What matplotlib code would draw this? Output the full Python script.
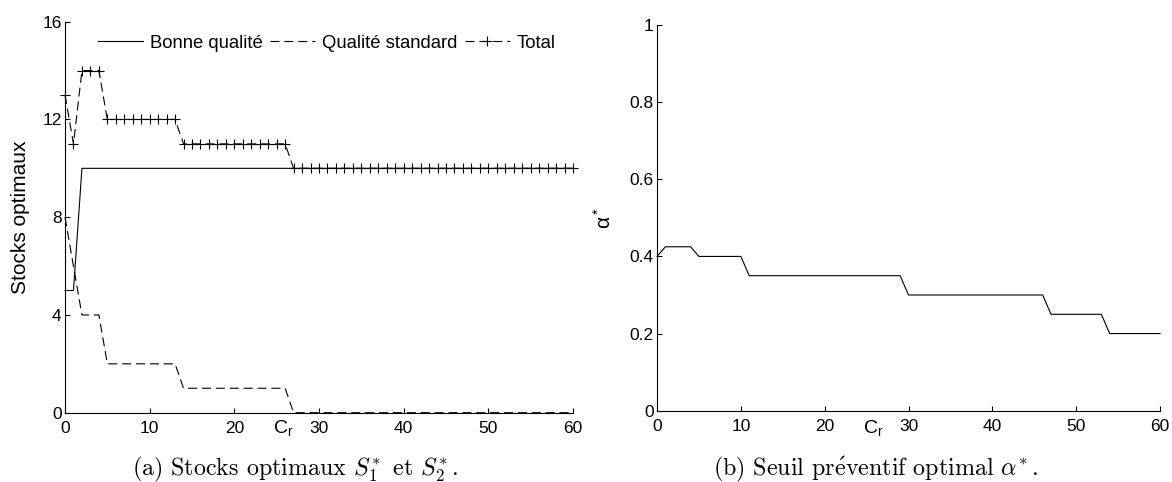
import matplotlib
matplotlib.use("Agg")
import matplotlib.pyplot as plt
import matplotlib.transforms as mtransforms

# ---- data ----
cr = list(range(0, 61))

bonne = [5, 5, 10, 10, 10, 10, 10, 10, 10, 10, 10, 10, 10, 10, 10, 10, 10, 10, 10, 10,
         10, 10, 10, 10, 10, 10, 10, 10, 10, 10, 10, 10, 10, 10, 10, 10, 10, 10, 10, 10,
         10, 10, 10, 10, 10, 10, 10, 10, 10, 10, 10, 10, 10, 10, 10, 10, 10, 10, 10, 10, 10]
standard = [8, 6, 4, 4, 4, 2, 2, 2, 2, 2, 2, 2, 2, 2, 1, 1, 1, 1, 1, 1,
            1, 1, 1, 1, 1, 1, 1, 0, 0, 0, 0, 0, 0, 0, 0, 0, 0, 0, 0, 0,
            0, 0, 0, 0, 0, 0, 0, 0, 0, 0, 0, 0, 0, 0, 0, 0, 0, 0, 0, 0, 0]
total = [13, 11, 14, 14, 14, 12, 12, 12, 12, 12, 12, 12, 12, 12, 11, 11, 11, 11, 11, 11,
         11, 11, 11, 11, 11, 11, 11, 10, 10, 10, 10, 10, 10, 10, 10, 10, 10, 10, 10, 10,
         10, 10, 10, 10, 10, 10, 10, 10, 10, 10, 10, 10, 10, 10, 10, 10, 10, 10, 10, 10, 10]
alpha = [0.40, 0.425, 0.425, 0.425, 0.425, 0.40, 0.40, 0.40, 0.40, 0.40, 0.40,
         0.35, 0.35, 0.35, 0.35, 0.35, 0.35, 0.35, 0.35, 0.35, 0.35,
         0.35, 0.35, 0.35, 0.35, 0.35, 0.35, 0.35, 0.35, 0.35,
         0.30, 0.30, 0.30, 0.30, 0.30, 0.30, 0.30, 0.30, 0.30, 0.30,
         0.30, 0.30, 0.30, 0.30, 0.30, 0.30, 0.30,
         0.25, 0.25, 0.25, 0.25, 0.25, 0.25, 0.25,
         0.20, 0.20, 0.20, 0.20, 0.20, 0.20, 0.20]

xticks = [0, 10, 20, 30, 40, 50, 60]
yticks_a = [0, 4, 8, 12, 16]
yticks_b = [0, 0.2, 0.4, 0.6, 0.8, 1]
yticklabels_b = ["0", "0.2", "0.4", "0.6", "0.8", "1"]

# ---- style ----
plt.rcParams["font.family"] = ["Liberation Sans", "DejaVu Sans"]
plt.rcParams["mathtext.fontset"] = "cm"
plt.rcParams["lines.scale_dashes"] = False

W, H = 1172, 482
fig = plt.figure(figsize=(W / 100, H / 100), dpi=100)

ax1 = fig.add_axes([65 / W, (H - 412.7) / H, 508 / W, 391 / H])
ax2 = fig.add_axes([657 / W, (H - 410.7) / H, 503 / W, 385.7 / H])

DASH = (6.5, 3.5)

ax1.plot(cr, bonne, color="black", lw=0.8, label="Bonne qualité", clip_on=False)
ax1.plot(cr, standard, color="black", lw=0.8, dashes=DASH, label="Qualité standard",
         clip_on=False)
ax1.plot(cr, total, color="black", lw=0.8, dashes=DASH, marker="+",
         markersize=7, markeredgewidth=0.8, label="Total", clip_on=False)

ax2.plot(cr, alpha, color="black", lw=0.8, clip_on=False)

for ax in (ax1, ax2):
    ax.set_xlim(0, 60)
    ax.set_xticks(xticks)
    for side in ("top", "right"):
        ax.spines[side].set_visible(False)
    for side in ("left", "bottom"):
        ax.spines[side].set_linewidth(0.8)
    ax.tick_params(direction="in", length=3.5, width=0.8, labelsize=12.5)
    ax.tick_params(axis="x", pad=6)
    ax.tick_params(axis="y", pad=2.5)
    # C_r placed near the 25 mark like in the original
    trans = mtransforms.blended_transform_factory(ax.transData, ax.transAxes)
    ybase = -0.052 if ax is ax1 else -0.058
    ax.text(24.6, ybase, r"$\mathregular{C_r}$", transform=trans, fontsize=14,
            ha="left", va="baseline")

ax1.set_ylim(0, 16)
ax1.set_yticks(yticks_a)
ax1.set_ylabel("Stocks optimaux", fontsize=15)
ax1.yaxis.set_label_coords(-0.069, 0.5)

ax2.set_ylim(0, 1)
ax2.set_yticks(yticks_b)
ax2.set_yticklabels(yticklabels_b)
ax2.set_ylabel(r"$\mathregular{\alpha^*}$", fontsize=15)
ax2.yaxis.set_label_coords(-0.083, 0.5)

ax1.legend(loc="center left", bbox_to_anchor=(0.065, 0.9455), ncol=3, frameon=False,
           fontsize=13.3, handlelength=2.45, handletextpad=0.38, columnspacing=0.38,
           borderpad=0, borderaxespad=0)

cap_font = ["cmr10", "DejaVu Serif"]
fig.text(295 / W, 7 / H, r"(a) Stocks optimaux $S_1^{\!*}$ et $S_2^{\!*}$.",
         family=cap_font, fontsize=17.3, ha="center", va="baseline")
fig.text(876 / W, 7 / H, r"(b) Seuil pr$\acute{\mathrm{e}}$ventif optimal $\alpha^{\!*}$.",
         family=cap_font, fontsize=17.3, ha="center", va="baseline")

fig.savefig("out.png", dpi=100)
